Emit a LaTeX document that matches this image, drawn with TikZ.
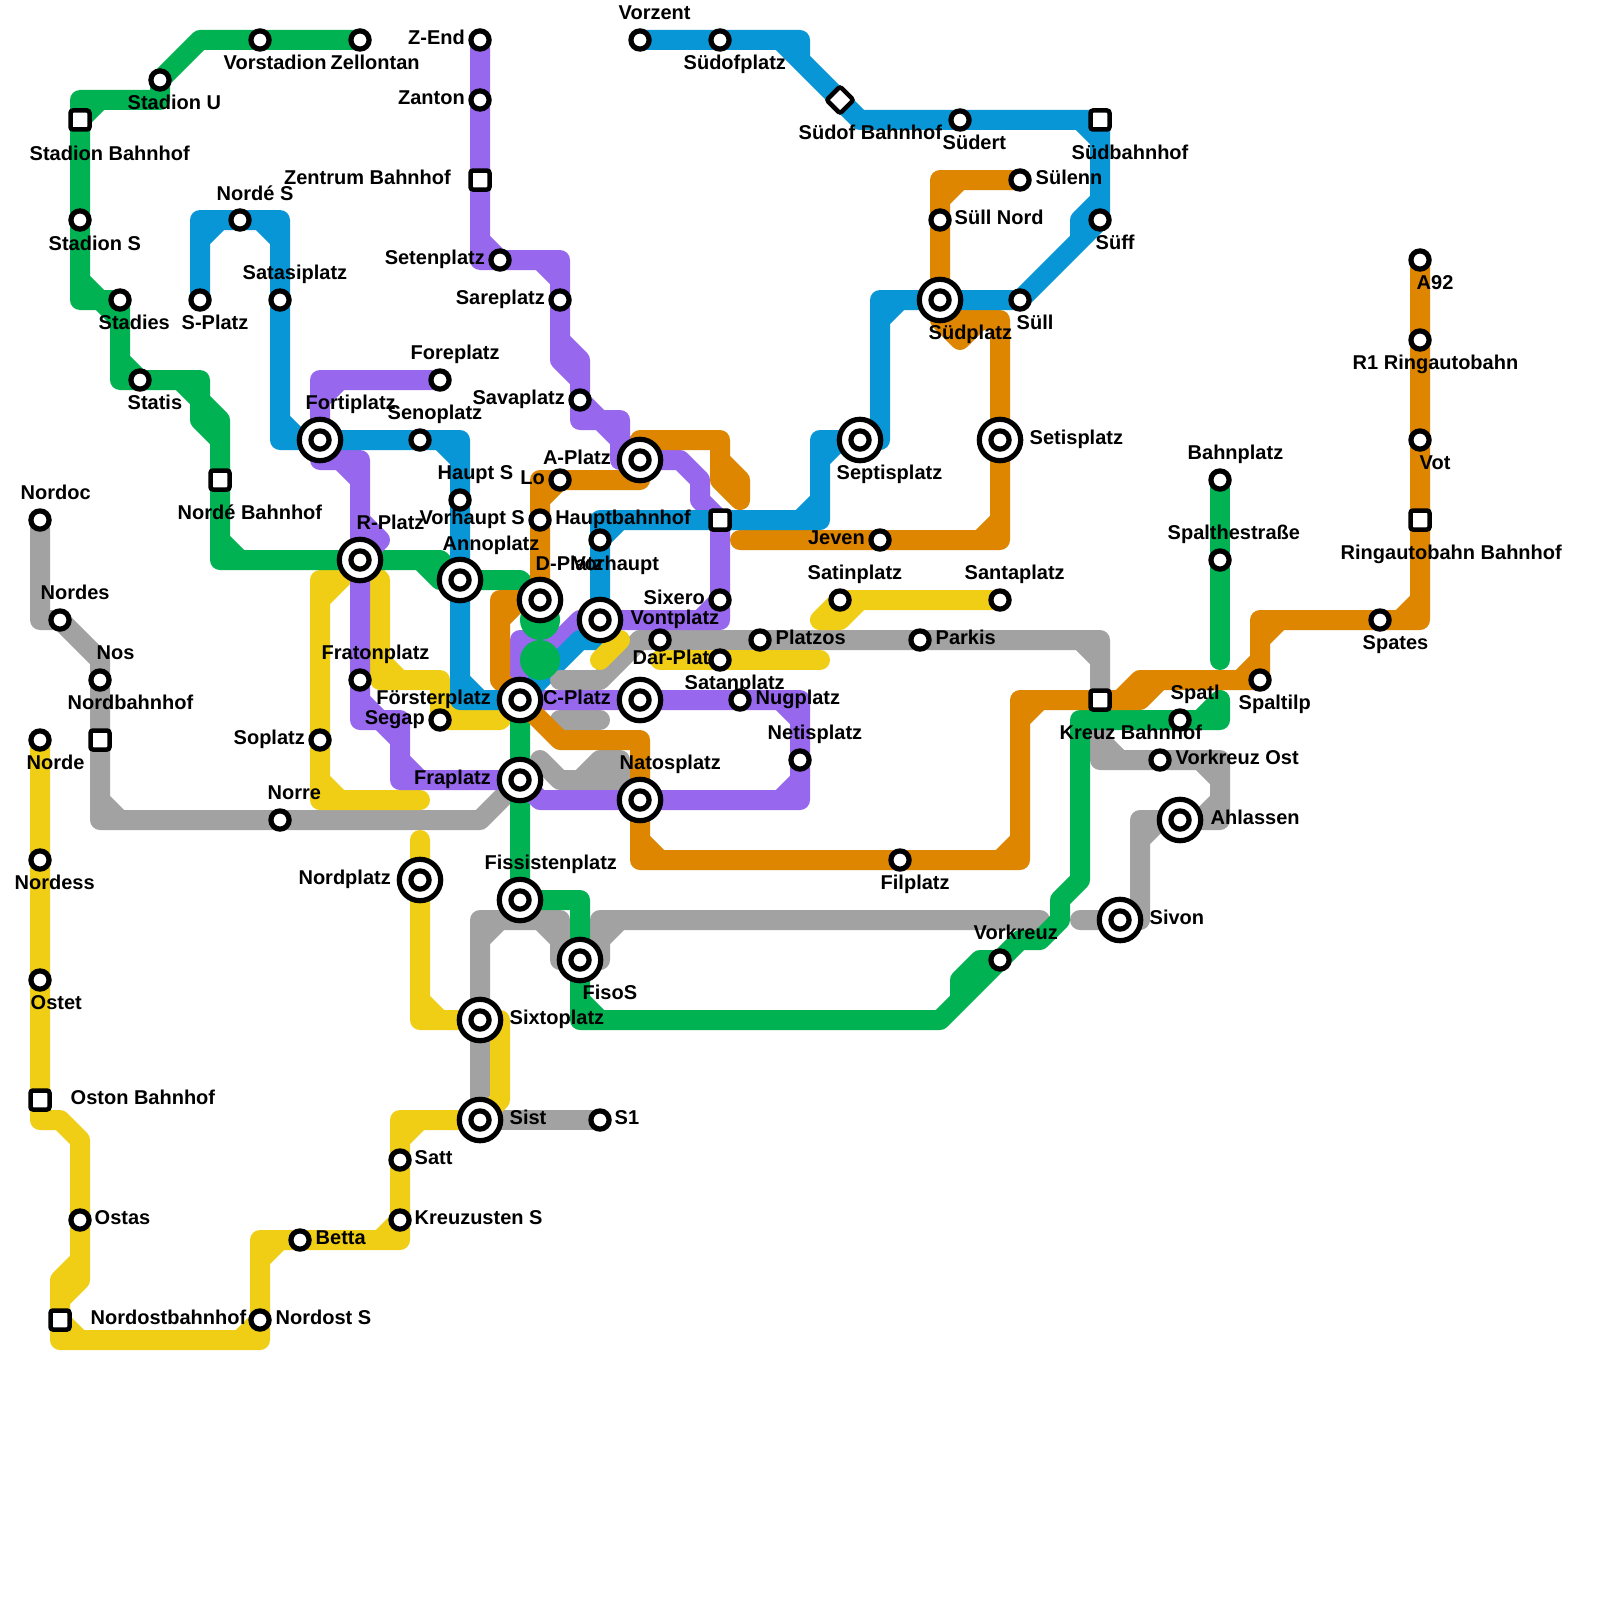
\documentclass[tikz,border=0pt]{standalone}
\usepackage{fontspec}
\setmainfont{Liberation Sans}
\pgfdeclarelayer{lines}
\pgfsetlayers{lines,main}
\definecolor{cgreen}{HTML}{00B251}
\definecolor{cblue}{HTML}{0896D7}
\definecolor{cpurple}{HTML}{9768EE}
\definecolor{corange}{HTML}{DF8600}
\definecolor{cgray}{HTML}{A2A2A2}
\definecolor{cyellow}{HTML}{F0CE15}
\tikzset{
  stn/.style={circle,draw=black,fill=white,line width=5.2pt,inner sep=0pt,outer sep=0pt,minimum size=18.2pt},
  hub/.style={circle,draw=black,fill=white,line width=5.2pt,inner sep=0pt,outer sep=0pt,minimum size=41.4pt,
    path picture={\draw[line width=5.2pt] (path picture bounding box.center) circle (9.1pt);}},
  box/.style={rectangle,draw=black,fill=white,line width=4.5pt,inner sep=0pt,outer sep=0pt,minimum size=19pt,rounded corners=2.5pt},
  dia/.style={box,rotate=45},
  lw/.style={anchor=base west,inner sep=0pt,xshift=-0.5pt,yshift=-0.5pt,font=\fontsize{20}{24}\selectfont\bfseries},
  le/.style={anchor=base east,inner sep=0pt,xshift=1pt,yshift=-0.5pt,font=\fontsize{20}{24}\selectfont\bfseries},
  rt/.style={line width=20pt,line cap=round,line join=round},
}
\begin{document}
\begin{tikzpicture}[x=1pt,y=-1pt]
\useasboundingbox (0,0) rectangle (1600,1600);
% stations
\node[stn] (zend) at (480,40) {};
\node[stn] (zanton) at (480,100) {};
\node[box] (zentrum) at (480,180) {};
\node[stn] (seten) at (500,260) {};
\node[stn] (sare) at (560,300) {};
\node[stn] (sava) at (580,400) {};
\node[hub] (aplatz) at (640,460) {};
\node[stn] (lo) at (560,480) {};
\node[stn] (vhs) at (540,520) {};
\node[box] (hbf) at (720,520) {};
\node[stn] (vh) at (600,540) {};
\node[hub] (dplatz) at (540,600) {};
\node[hub] (vont) at (600,620) {};
\node[stn] (sixero) at (720,600) {};
\node[stn] (plunn) at (660,640) {};
\node[stn] (dar) at (720,660) {};
\node[stn] (platzos) at (760,640) {};
\node[stn] (parkis) at (920,640) {};
\node[hub] (cplatz) at (640,700) {};
\node[stn] (nug) at (740,700) {};
\node[stn] (neti) at (800,760) {};
\node[hub] (nato) at (640,800) {};
\node[hub] (forst) at (520,700) {};
\node[hub] (frap) at (520,780) {};
\node[stn] (segap) at (440,720) {};
\node[stn] (frat) at (360,680) {};
\node[hub] (rplatz) at (360,560) {};
\node[hub] (anno) at (460,580) {};
\node[stn] (hauptS) at (460,500) {};
\node[hub] (forti) at (320,440) {};
\node[stn] (seno) at (420,440) {};
\node[stn] (fore) at (440,380) {};
\node[stn] (sopl) at (320,740) {};
\node[stn] (norre) at (280,820) {};
\node[hub] (nordp) at (420,880) {};
\node[hub] (fiss) at (520,900) {};
\node[hub] (fiso) at (580,960) {};
\node[hub] (sixto) at (480,1020) {};
\node[hub] (sist) at (480,1120) {};
\node[stn] (sone) at (600,1120) {};
\node[stn] (satt) at (400,1160) {};
\node[stn] (krzS) at (400,1220) {};
\node[stn] (betta) at (300,1240) {};
\node[stn] (nordostS) at (260,1320) {};
\node[box] (nordostB) at (60,1320) {};
\node[stn] (ostas) at (80,1220) {};
\node[box] (oston) at (40,1100) {};
\node[stn] (ostet) at (40,980) {};
\node[stn] (nordess) at (40,860) {};
\node[stn] (norde) at (40,740) {};
\node[stn] (nordoc) at (40,520) {};
\node[stn] (nordes) at (60,620) {};
\node[stn] (nos) at (100,680) {};
\node[box] (nordb) at (100,740) {};
\node[box] (stadB) at (80,120) {};
\node[stn] (stadU) at (160,80) {};
\node[stn] (vorst) at (260,40) {};
\node[stn] (zell) at (360,40) {};
\node[stn] (stadS) at (80,220) {};
\node[stn] (stadies) at (120,300) {};
\node[stn] (statis) at (140,380) {};
\node[box] (nordeB) at (220,480) {};
\node[stn] (nordeS) at (240,220) {};
\node[stn] (splatz) at (200,300) {};
\node[stn] (satasi) at (280,300) {};
\node[stn] (vorzent) at (640,40) {};
\node[stn] (sudof) at (720,40) {};
\node[dia] (sudofB) at (840,100) {};
\node[stn] (sudert) at (960,120) {};
\node[box] (sudB) at (1100,120) {};
\node[stn] (suff) at (1100,220) {};
\node[stn] (sulenn) at (1020,180) {};
\node[stn] (sullN) at (940,220) {};
\node[hub] (sudp) at (940,300) {};
\node[stn] (sull) at (1020,300) {};
\node[hub] (septis) at (860,440) {};
\node[hub] (setis) at (1000,440) {};
\node[stn] (jeven) at (880,540) {};
\node[stn] (satin) at (840,600) {};
\node[stn] (santa) at (1000,600) {};
\node[stn] (filp) at (900,860) {};
\node[box] (kreuz) at (1100,700) {};
\node[stn] (spatl) at (1180,720) {};
\node[stn] (spaltilp) at (1260,680) {};
\node[stn] (vkO) at (1160,760) {};
\node[hub] (ahl) at (1180,820) {};
\node[hub] (sivon) at (1120,920) {};
\node[stn] (vk) at (1000,960) {};
\node[stn] (bahn) at (1220,480) {};
\node[stn] (spalth) at (1220,560) {};
\node[stn] (aneun) at (1420,260) {};
\node[stn] (rone) at (1420,340) {};
\node[stn] (vot) at (1420,440) {};
\node[box] (ringB) at (1420,520) {};
\node[stn] (spates) at (1380,620) {};
% routes
\begin{pgfonlayer}{lines}
\fill[white] (0,0) rectangle (1600,1600);
% gray
\draw[rt,cgray] (nordoc.center)--(40,620)--(nordes.center)--(100,660)--(100,820)--(480,820)--(frap.center) (100,800)--(120,820);
\draw[rt,cgray] (kreuz.center)--(1100,640)--(640,640) (1080,640)--(1100,660);
\draw[rt,cgray] (560,720)--(600,720);
\draw[rt,cgray] (540,760)--(560,780)--(620,780)--(620,760)--(600,760)--(580,780);
\draw[rt,cgray] (sist.center)--(480,920)--(560,920)--(560,960)--(600,960)--(600,920)--(1040,920)
  (480,940)--(500,920) (540,920)--(560,940) (600,940)--(620,920);
\draw[rt,cgray] (sist.center)--(sone.center);
\draw[rt,cgray] (kreuz.center)--(1100,760)--(1220,760)--(1220,820)--(ahl.center)--(1140,820)--(1140,920)--(1080,920)
  (1100,740)--(1120,760) (1200,760)--(1220,780) (1220,800)--(1200,820) (1140,840)--(1160,820);
% yellow
\draw[rt,cyellow] (320,600)--(rplatz.center) (340,580)--(320,580)--(320,800)--(420,800) (320,780)--(340,800);
\draw[rt,cyellow] (rplatz.center)--(380,580)--(380,680)--(440,680)--(440,720)--(500,720)--(forst.center)
  (380,660)--(400,680) (440,700)--(460,720);
\draw[rt,cyellow] (420,840)--(nordp.center)--(420,1020)--(sixto.center)--(500,1020)--(500,1100)--(sist.center)--(400,1120)--(400,1240)--(260,1240)--(260,1340)--(60,1340)--(60,1280)--(80,1260)--(80,1140)--(60,1120)--(40,1120)--(norde.center)
  (420,1000)--(440,1020) (400,1140)--(420,1120) (380,1240)--(400,1220) (260,1260)--(280,1240) (240,1340)--(260,1320) (60,1320)--(80,1340) (80,1260)--(80,1280)--(60,1300);
\draw[rt,cyellow] (santa.center)--(satin.center)--(820,620)--(840,620)--(860,600);
\draw[rt,cyellow] (660,660)--(820,660);
% green
\draw[rt,cgreen] (zell.center)--(200,40)--(stadU.center)--(160,100)--(80,100)--(80,300)--(120,300)--(120,380)--(200,380)--(200,420)--(220,440)--(220,560)--(440,560)--(anno.center)--(520,580)--(dplatz.center)
  (80,120)--(100,100) (80,280)--(100,300)--(120,320) (120,360)--(140,380) (180,380)--(200,400)--(220,420)--(220,440) (220,540)--(240,560) (420,560)--(440,580)--(460,580);
\draw[rt,cgreen] (forst.center)--(fiss.center)--(580,900)--(580,1020)--(940,1020)--(vk.center)--(1020,940)--(1040,940)--(1060,920)--(1060,900)--(1080,880)--(1080,720)--(1220,720)--(1220,700)--(1200,720)
  (580,1000)--(600,1020) (960,1000)--(960,980)--(980,960)--(vk.center);
\draw[rt,cgreen] (bahn.center)--(1220,660);
% purple
\draw[rt,cpurple] (zend.center)--(480,260)--(560,260)--(560,360)--(580,380)--(580,420)--(620,420)--(620,460)--(aplatz.center)--(680,460)--(700,480)--(700,500)--(hbf.center)--(720,620)--(580,620)--(560,640)--(520,640)--(forst.center)--(800,700)--(800,800)--(540,800)--(frap.center)--(400,780)--(400,720)--(360,720)--(360,460)--(320,460)--(320,380)--(fore.center)
  (480,240)--(500,260) (540,260)--(560,280) (560,340)--(580,360)--(580,380) (580,400)--(600,420)--(aplatz.center) (700,620)--(720,600) (780,700)--(800,720) (780,800)--(800,780) (400,760)--(420,780) (380,720)--(400,740) (360,700)--(380,720) (340,460)--(360,480) (320,400)--(340,380) (360,520)--(380,540)--(rplatz.center);
% orange
\draw[rt,corange] (sulenn.center)--(940,180)--(sudp.center)--(940,320)--(960,340)--(980,320)--(1000,320)--(setis.center)--(1000,540)--(740,540)
  (940,200)--(960,180) (940,320)--(1000,320) (980,540)--(1000,520);
\draw[rt,corange] (640,440)--(720,440)--(720,480)--(740,500)--(740,480)--(720,460);
\draw[rt,corange] (aplatz.center)--(640,480)--(540,480)--(dplatz.center)--(500,600)--(500,680)--(forst.center)--(560,740)--(640,740)--(640,860)--(1020,860)--(1020,700)--(kreuz.center)--(1140,700)--(1160,680)--(1260,680)--(1260,620)--(1420,620)--(aneun.center)
  (540,500)--(560,480) (500,620)--(520,600) (640,840)--(660,860) (1000,860)--(1020,840) (1020,720)--(1040,700) (1120,700)--(1140,680)--(1160,680) (1240,680)--(1260,660) (1260,640)--(1280,620) (1400,620)--(1420,600);
% blue
\draw[rt,cblue] (splatz.center)--(200,220)--(280,220)--(280,440)--(460,440)--(460,700)--(forst.center)--(580,640)--(600,640)--(600,520)--(820,520)--(820,440)--(880,440)--(880,300)--(sull.center)--(1080,240)--(1100,220)--(1100,120)--(860,120)--(780,40)--(vorzent.center)
  (200,240)--(220,220) (260,220)--(280,240) (280,420)--(300,440) (440,440)--(460,460) (460,680)--(480,700) (600,540)--(620,520) (800,520)--(820,500) (820,460)--(840,440) (880,320)--(900,300) (1080,240)--(1080,220)--(1100,200) (1080,120)--(1100,140) (780,40)--(800,40)--(800,60);
% pieces on top
\draw[rt,cgray] (640,640)--(600,680)--(560,680);
\draw[rt,cyellow] (600,660)--(620,640);
\fill[cgreen] (540,620) circle (20pt);
\fill[cgreen] (540,660) circle (20pt);
\node[lw] (tdar) at (633,664) {Dar-Platz};
\end{pgfonlayer}
% labels
\node[le] (tzend) at (464,44) {Z-End};
\node[le] (tzanton) at (464,104) {Zanton};
\node[le] (tzentrum) at (450,184) {Zentrum Bahnhof};
\node[le] (tseten) at (484,264) {Setenplatz};
\node[le] (tsare) at (544,304) {Sareplatz};
\node[le] (tsava) at (564,404) {Savaplatz};
\node[le] (taplatz) at (610,464) {A-Platz};
\node[le] (tlo) at (544,484) {Lo};
\node[le] (tvhs) at (524,524) {Vorhaupt S};
\node[le] (thbf) at (690,524) {Hauptbahnhof};
\node[le] (tsixero) at (704,604) {Sixero};
\node[le] (tforst) at (490,704) {Försterplatz};
\node[le] (tsegap) at (424,724) {Segap};
\node[le] (tcplatz) at (610,704) {C-Platz};
\node[le] (tsopl) at (304,744) {Soplatz};
\node[le] (tfrap) at (490,784) {Fraplatz};
\node[le] (tnordp) at (390,884) {Nordplatz};
\node[le] (tjeven) at (864,544) {Jeven};
\node[lw] (tstadU) at (128,109) {Stadion U};
\node[lw] (tvorst) at (224,69) {Vorstadion};
\node[lw] (tzell) at (331,69) {Zellontan};
\node[lw] (tstadB) at (30,160) {Stadion Bahnhof};
\node[lw] (tstadS) at (49,250) {Stadion S};
\node[lw] (tnordeS) at (217,200) {Nordé S};
\node[lw] (tsatasi) at (243,279) {Satasiplatz};
\node[lw] (tstadies) at (99,329) {Stadies};
\node[lw] (tsplatz) at (182,329) {S-Platz};
\node[lw] (tstatis) at (128,409) {Statis};
\node[lw] (tfore) at (411,359) {Foreplatz};
\node[lw] (tforti) at (306,409) {Fortiplatz};
\node[lw] (tseno) at (388,419) {Senoplatz};
\node[lw] (tnordoc) at (21,499) {Nordoc};
\node[lw] (thaupts) at (438,479) {Haupt S};
\node[lw] (trplatz) at (357,529) {R-Platz};
\node[lw] (tanno) at (443,550) {Annoplatz};
\node[lw] (tdplatz) at (536,570) {D-Platz};
\node[lw] (tvh) at (573,570) {Vorhaupt};
\node[lw] (tvont) at (631,624) {Vontplatz};
\node[lw] (tplatzos) at (776,644) {Platzos};
\node[lw] (tsatan) at (685,689) {Satanplatz};
\node[lw] (tnug) at (756,704) {Nugplatz};
\node[lw] (tfrat) at (322,659) {Fratonplatz};
\node[lw] (tnato) at (620,769) {Natosplatz};
\node[lw] (tneti) at (768,739) {Netisplatz};
\node[lw] (tfiss) at (485,869) {Fissistenplatz};
\node[lw] (tnorre) at (268,799) {Norre};
\node[lw] (tsatin) at (808,579) {Satinplatz};
\node[lw] (tsanta) at (965,579) {Santaplatz};
\node[lw] (tparkis) at (936,644) {Parkis};
\node[lw] (tseptis) at (837,479) {Septisplatz};
\node[lw] (tsetis) at (1030,444) {Setisplatz};
\node[lw] (tsudp) at (929,339) {Südplatz};
\node[lw] (tsull) at (1017,329) {Süll};
\node[lw] (tsullN) at (955,224) {Süll Nord};
\node[lw] (tsulenn) at (1036,184) {Sülenn};
\node[lw] (tsuff) at (1096,249) {Süff};
\node[lw] (tsudB) at (1072,159) {Südbahnhof};
\node[lw] (tsudert) at (943,149) {Südert};
\node[lw] (tsudofB) at (799,139) {Südof Bahnhof};
\node[lw] (tsudof) at (684,69) {Südofplatz};
\node[lw] (tvorzent) at (619,19) {Vorzent};
\node[lw] (tkreuz) at (1060,739) {Kreuz Bahnhof};
\node[lw] (tspatl) at (1171,699) {Spatl};
\node[lw] (tspaltilp) at (1239,709) {Spaltilp};
\node[lw] (tvkO) at (1176,764) {Vorkreuz Ost};
\node[lw] (tahl) at (1211,824) {Ahlassen};
\node[lw] (tsivon) at (1150,924) {Sivon};
\node[lw] (tvk) at (974,939) {Vorkreuz};
\node[lw] (tfilp) at (881,889) {Filplatz};
\node[lw] (taneun) at (1417,289) {A92};
\node[lw] (trone) at (1353,369) {R1 Ringautobahn};
\node[lw] (tvot) at (1420,469) {Vot};
\node[lw] (tringB) at (1341,559) {Ringautobahn Bahnhof};
\node[lw] (tspates) at (1363,649) {Spates};
\node[lw] (tbahn) at (1188,459) {Bahnplatz};
\node[lw] (tspalth) at (1168,539) {Spalthestraße};
\node[lw] (tfiso) at (583,999) {FisoS};
\node[lw] (tsixto) at (510,1024) {Sixtoplatz};
\node[lw] (tsist) at (510,1124) {Sist};
\node[lw] (tsone) at (615,1124) {S1};
\node[lw] (tnordes) at (41,599) {Nordes};
\node[lw] (tnos) at (97,659) {Nos};
\node[lw] (tnordb) at (68,709) {Nordbahnhof};
\node[lw] (tnorde) at (27,769) {Norde};
\node[lw] (tnordeB) at (178,519) {Nordé Bahnhof};
\node[lw] (tnordess) at (15,889) {Nordess};
\node[lw] (tostet) at (31,1009) {Ostet};
\node[lw] (toston) at (71,1104) {Oston Bahnhof};
\node[lw] (tostas) at (95,1224) {Ostas};
\node[lw] (tbetta) at (316,1244) {Betta};
\node[lw] (tnordostB) at (91,1324) {Nordostbahnhof};
\node[lw] (tnordostS) at (276,1324) {Nordost S};
\node[lw] (tsatt) at (415,1164) {Satt};
\node[lw] (tkrzS) at (415,1224) {Kreuzusten S};
\end{tikzpicture}
\end{document}
